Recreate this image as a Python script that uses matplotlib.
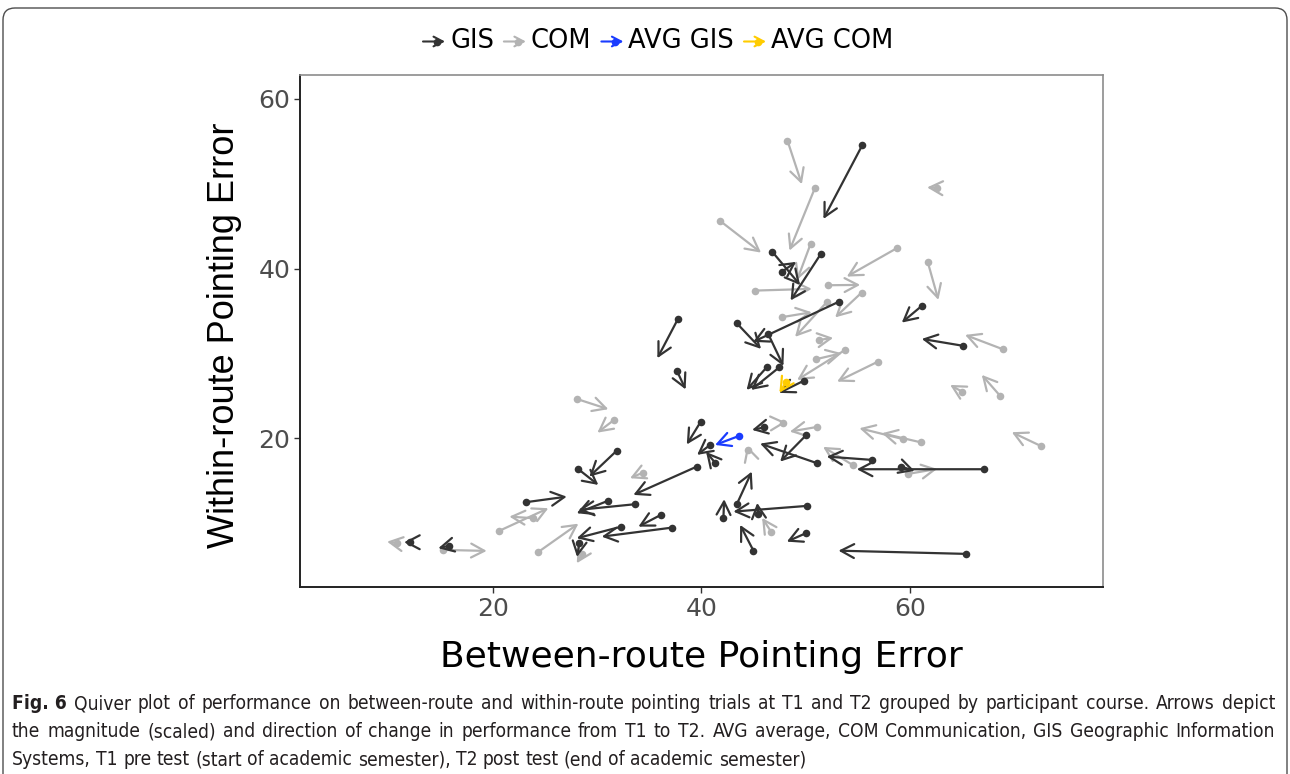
import matplotlib
matplotlib.use('Agg')
import matplotlib.pyplot as plt
from matplotlib import font_manager
from matplotlib.patches import FancyBboxPatch, FancyArrowPatch
from matplotlib.lines import Line2D
from matplotlib.transforms import IdentityTransform

# T1 -> T2 pointing error per participant
gis_between_t1 = [55.44, 46.78, 47.74, 51.45, 53.20, 43.39, 46.40, 46.27, 47.48, 49.85,
                  37.74, 37.64, 31.89, 28.21, 39.56, 39.94, 46.01, 50.04, 51.09, 56.34,
                  67.13, 59.15, 65.12, 61.13, 43.42, 42.11, 50.11, 45.47, 44.99, 50.01,
                  65.35, 41.31, 40.83, 23.19, 31.08, 33.64, 36.11, 32.33, 37.16, 28.30,
                  15.84, 12.07]
gis_within_t1 = [54.57, 42.00, 39.65, 41.73, 36.11, 33.57, 32.31, 28.39, 28.39, 26.81,
                 34.04, 27.99, 18.56, 16.37, 16.68, 21.98, 21.30, 20.38, 17.08, 17.47,
                 16.37, 16.68, 30.90, 35.61, 12.32, 10.60, 12.05, 11.11, 6.78, 8.83,
                 6.40, 17.15, 19.23, 12.49, 12.67, 12.25, 10.99, 9.61, 9.49, 7.66,
                 7.37, 7.77]
gis_between_t2 = [51.70, 49.46, 49.08, 48.55, 44.96, 45.72, 47.86, 44.33, 44.77, 47.45,
                  35.78, 38.49, 29.26, 30.12, 33.48, 38.60, 44.86, 47.55, 45.63, 52.02,
                  54.90, 60.44, 61.13, 59.21, 44.83, 42.18, 43.07, 45.35, 43.71, 48.19,
                  53.14, 40.45, 39.59, 27.09, 28.05, 28.21, 33.96, 28.05, 30.45, 28.08,
                  14.78, 11.50]
gis_within_t2 = [45.85, 38.08, 40.79, 36.25, 31.37, 30.54, 28.54, 25.71, 25.71, 25.36,
                 29.45, 25.77, 15.50, 14.52, 13.35, 19.29, 21.00, 17.27, 19.39, 17.86,
                 16.37, 16.17, 31.72, 33.64, 16.09, 12.84, 11.38, 12.40, 9.81, 7.84,
                 6.78, 18.41, 18.06, 13.14, 11.19, 11.58, 9.61, 8.24, 8.43, 6.04,
                 7.07, 7.77]

com_between_t1 = [48.25, 50.90, 62.60, 41.79, 50.47, 45.15, 52.18, 58.73, 61.69, 55.36,
                  47.71, 52.02, 51.31, 51.00, 53.78, 56.94, 68.88, 64.97, 68.64, 72.52,
                  61.06, 59.37, 54.57, 51.09, 47.86, 44.51, 59.82, 46.68, 34.38, 23.89,
                  20.60, 24.37, 28.59, 15.26, 10.80, 28.05, 31.63]
com_within_t1 = [55.08, 49.54, 49.50, 45.62, 42.91, 37.41, 38.04, 42.40, 40.82, 37.17,
                 34.28, 36.05, 31.60, 29.33, 30.42, 29.05, 30.51, 25.51, 25.01, 19.12,
                 19.53, 19.91, 16.82, 21.35, 21.86, 18.59, 15.82, 9.02, 15.97, 10.60,
                 9.10, 6.63, 6.40, 6.87, 7.66, 24.65, 22.18]
com_between_t2 = [49.63, 48.44, 61.64, 45.72, 49.18, 50.58, 55.22, 53.94, 62.72, 52.82,
                  50.58, 48.98, 52.63, 53.46, 49.18, 53.01, 65.28, 63.85, 66.88, 69.76,
                  57.30, 55.15, 51.67, 48.48, 48.12, 44.38, 62.60, 45.82, 33.16, 21.59,
                  25.33, 28.21, 28.05, 19.42, 9.87, 31.08, 30.03]
com_within_t2 = [49.94, 42.12, 49.56, 41.88, 38.67, 37.61, 38.08, 39.06, 36.31, 34.25,
                 34.86, 31.96, 31.84, 30.04, 26.89, 26.69, 32.19, 26.30, 27.48, 20.73,
                 20.61, 21.20, 19.00, 20.80, 21.88, 19.12, 16.41, 10.64, 15.31, 10.79,
                 11.78, 9.96, 5.30, 6.75, 7.84, 23.44, 20.68]

avg_gis = [43.61, 20.29, 41.31, 19.23]
avg_com = [48.12, 26.62, 47.48, 25.39]

labels = ['GIS', 'COM', 'AVG GIS', 'AVG COM']
colors = ['#333333', '#b3b3b3', '#1a3cff', '#ffcc00']

caption = [
    [('Fig. 6', 'bold')] + [(w, 'normal') for w in
        'Quiver plot of performance on between-route and within-route pointing trials at T1 and T2 grouped by participant course. Arrows depict'.split()],
    [(w, 'normal') for w in
        'the magnitude (scaled) and direction of change in performance from T1 to T2. AVG average, COM Communication, GIS Geographic Information'.split()],
    [(w, 'normal') for w in
        'Systems, T1 pre test (start of academic semester), T2 post test (end of academic semester)'.split()],
]

plt.rcParams['font.family'] = ['DejaVu Sans']

W, H = 1290, 774
fig = plt.figure(figsize=(W / 100, H / 100), dpi=100)
fig.patch.set_facecolor('white')
ax = fig.add_axes([300 / W, 1 - 587 / H, 803 / W, 512 / H])

HEAD = '->,head_length=0.95,head_width=0.5'


def draw_arrows(x0, y0, x1, y1, color, z):
    for a, b, c, d in zip(x0, y0, x1, y1):
        ax.annotate('', xy=(c, d), xytext=(a, b), zorder=z,
                    arrowprops=dict(arrowstyle=HEAD, color=color, lw=1.6,
                                    shrinkA=0, shrinkB=0))
    ax.scatter(x0, y0, s=30, color=color, zorder=z + 0.5, linewidths=0)


draw_arrows(com_between_t1, com_within_t1, com_between_t2, com_within_t2, colors[1], 2)
draw_arrows(gis_between_t1, gis_within_t1, gis_between_t2, gis_within_t2, colors[0], 3)
draw_arrows([avg_gis[0]], [avg_gis[1]], [avg_gis[2]], [avg_gis[3]], colors[2], 4)
draw_arrows([avg_com[0]], [avg_com[1]], [avg_com[2]], [avg_com[3]], colors[3], 4)

ax.set_xlim(1.52, 78.5)
ax.set_ylim(2.5, 62.8)
ax.set_xticks([20, 40, 60])
ax.set_yticks([20, 40, 60])
ax.tick_params(direction='out', length=4, width=1, color='#333333',
               labelcolor='#4d4d4d', labelsize=18, pad=3)
for s in ['left', 'bottom']:
    ax.spines[s].set_color('#222222')
    ax.spines[s].set_linewidth(1.4)
for s in ['top', 'right']:
    ax.spines[s].set_color('#8c8c8c')
    ax.spines[s].set_linewidth(1.2)

ax.set_xlabel('Between-route Pointing Error', fontsize=26, color='black')
ax.xaxis.label.set_va('center')
ax.xaxis.set_label_coords(0.5, (587 - 657) / 512)
ax.set_ylabel('Within-route Pointing Error', fontsize=26, color='black',
              family='Liberation Sans')
ax.yaxis.label.set_va('center')
ax.yaxis.label.set_ha('center')
ax.yaxis.set_label_coords((225 - 300) / 803, (587 - 335) / 512)

fig.canvas.draw()
r = fig.canvas.get_renderer()

# legend across the top
x = 423
ly = H - 41.5
for lab, col in zip(labels, colors):
    fig.add_artist(FancyArrowPatch((x, ly), (x + 22, ly), arrowstyle=HEAD, color=col, lw=1.5,
                                   mutation_scale=7, shrinkA=0, shrinkB=0,
                                   transform=IdentityTransform()))
    fig.add_artist(Line2D([x + 14], [ly], marker='o', ms=4.5, color=col,
                          transform=IdentityTransform()))
    t = fig.text((x + 27) / W, ly / H, lab, fontsize=18.5, va='center', ha='left')
    x = x + 27 + t.get_window_extent(r).width + 10

# caption
names = {f.name for f in font_manager.fontManager.ttflist}
cap_font = 'Liberation Sans Narrow' if 'Liberation Sans Narrow' in names else 'DejaVu Sans'
probe = fig.text(0, 0, ' '.join(w for w, _ in caption[2]), fontsize=10, family=cap_font,
                 fontstretch='condensed')
fs = 10 * 794 / probe.get_window_extent(r).width
probe.remove()

baselines = [709, 737, 765]
for i, line in enumerate(caption):
    texts = [fig.text(0, 1 - baselines[i] / H, w, fontsize=fs, family=cap_font,
                      fontstretch='condensed', fontweight=wt, va='baseline',
                      color='#231f20') for w, wt in line]
    widths = [t.get_window_extent(r).width for t in texts]
    if i < 2:
        gap = (1263 - sum(widths)) / (len(widths) - 1)
    else:
        gap = (794 - sum(widths)) / (len(widths) - 1)
    xx = 12
    for t, w in zip(texts, widths):
        t.set_x(xx / W)
        xx += w + gap

# rounded frame around the figure panel
fig.add_artist(FancyBboxPatch((3, -60), 1284, H - 8 + 60,
                              boxstyle='round,pad=0,rounding_size=12',
                              fill=False, ec='#4d4d4d', lw=1.0,
                              transform=IdentityTransform()))

fig.savefig('out.png', dpi=100, facecolor='white')
